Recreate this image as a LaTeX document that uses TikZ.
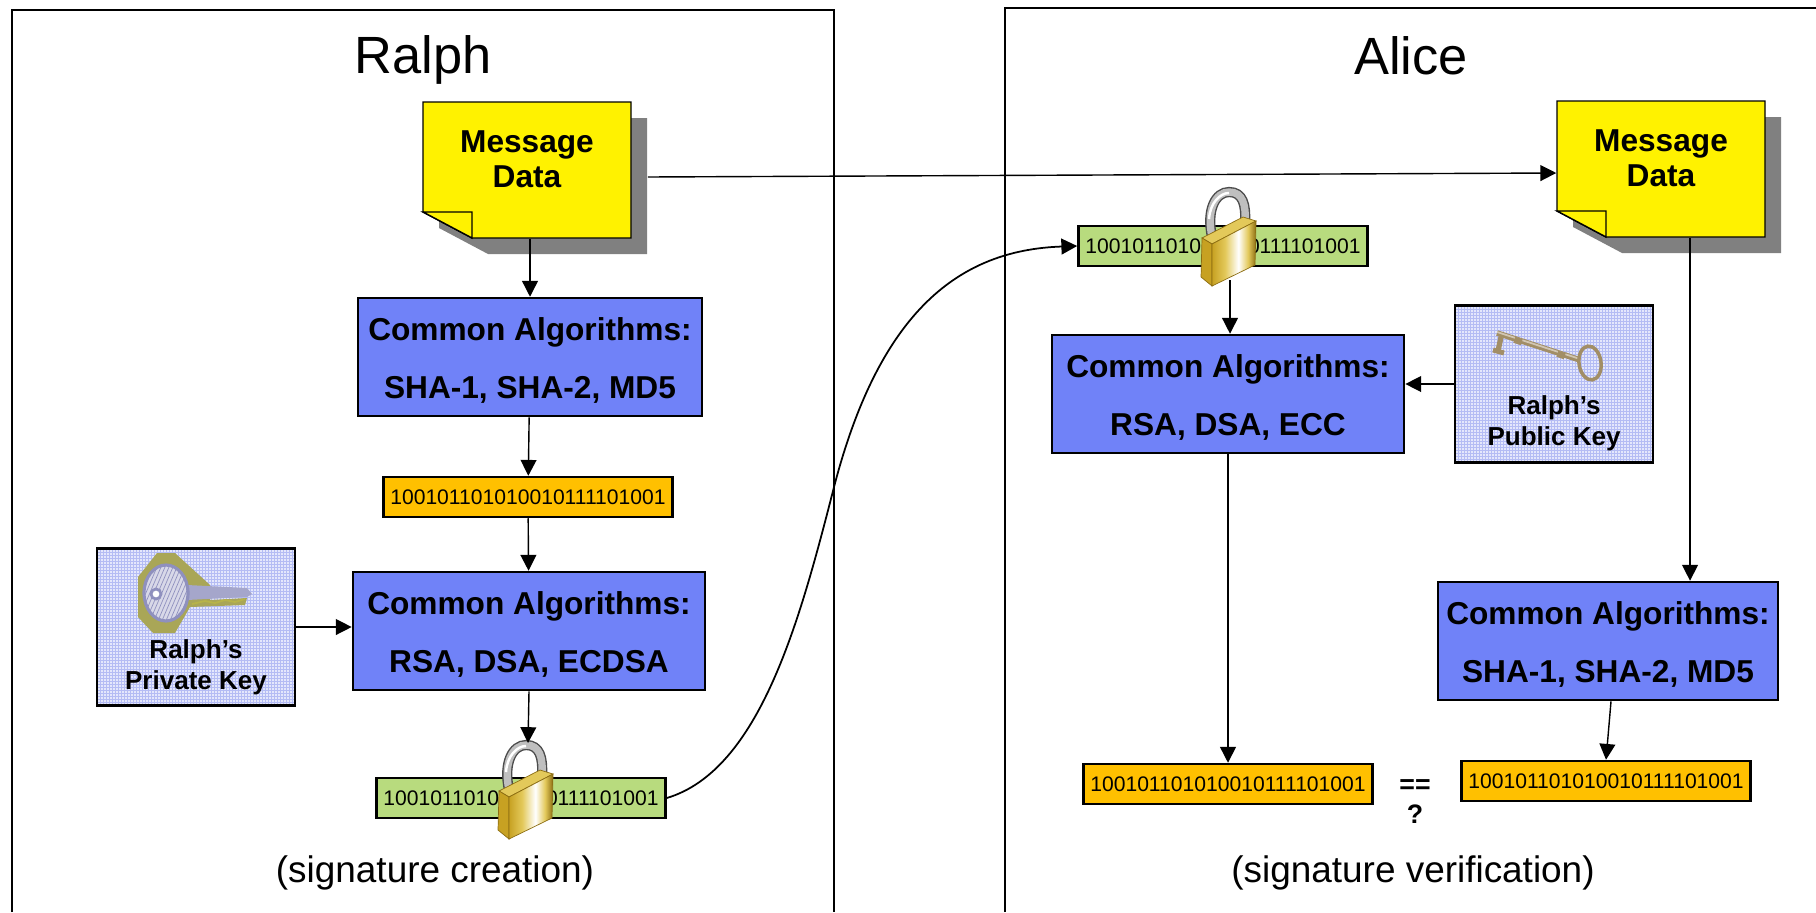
\documentclass[tikz,border=0pt]{standalone}
\usepackage{fontspec}
\setmainfont{Liberation Sans}
\usetikzlibrary{arrows.meta}
\definecolor{algblue}{HTML}{7082F8}
\definecolor{bitorange}{HTML}{FFC000}
\definecolor{bitgreen}{HTML}{B8DB7E}
\definecolor{keyback}{HTML}{E4E7FC}
\definecolor{keyline}{HTML}{B4BCF4}
\definecolor{keyolive}{HTML}{B7B34A}
\definecolor{keysteel}{HTML}{8F90BE}
\definecolor{keybrass}{HTML}{A28E66}
\definecolor{lockdark}{HTML}{8C6D12}
\definecolor{lockmid}{HTML}{C7A122}
\definecolor{locklight}{HTML}{E3C95A}
\pgfdeclarehorizontalshading{lockgold}{100bp}{color(0bp)=(lockmid); color(25bp)=(lockmid); color(40bp)=(locklight); color(55bp)=(white); color(66bp)=(locklight); color(75bp)=(lockdark); color(100bp)=(lockdark)}
\tikzset{
	arrow/.style={-{Triangle[length=4.5pt,width=4.5pt]}, line width=0.4pt},
	algbox/.style={draw, line width=0.7pt, fill=algblue, minimum width=#1, minimum height=1.18cm},
	algtext/.style={align=center, inner sep=0pt, yshift=-0.035cm, font=\fontsize{9}{16.5}\selectfont\bfseries},
	bitbox/.style={draw, line width=0.7pt, fill=#1, minimum width=2.89cm, minimum height=0.4cm, inner sep=0pt, font=\fontsize{6}{7}\selectfont},
	keybox/.style={draw, line width=0.7pt, fill=keyback, minimum width=1.98cm, minimum height=1.57cm, inner sep=0pt,
		path picture={\draw[keyline, line width=0.1pt, step=0.03cm] (path picture bounding box.south west) grid (path picture bounding box.north east);}},
	keytext/.style={align=center, inner sep=0pt, font=\fontsize{7.4}{8.8}\selectfont\bfseries},
	msgtext/.style={align=center, inner sep=0pt, font=\fontsize{9}{10}\selectfont\bfseries},
	heading/.style={inner sep=0pt, font=\fontsize{14.9}{16}\selectfont},
	caption/.style={inner sep=0pt, font=\fontsize{10.5}{12}\selectfont},
	frame/.style={line width=0.8pt},
}
% note with folded corner; #1 name, #2 top left corner
\newcommand{\notesheet}[2]{
	\begin{scope}[shift={#2}]
		\fill[black!50] (16,16) -- (224,16) -- (224,152) -- (65,152) -- (16,126) -- cycle;
		\draw[line width=0.4pt, fill=yellow] (0,0) -- (208,0) -- (208,136) -- (49,136) -- (0,110) -- cycle;
		\draw[line width=0.4pt, fill=yellow] (0,110) -- (49,110) -- (49,136) -- cycle;
		\node (#1) [minimum width=2.08cm, minimum height=1.36cm, inner sep=0pt] at (104,68) {};
		\node (#1text) [msgtext] at (104,57) {Message\\Data};
	\end{scope}
}
% padlock; #1 left corner of the body
\newcommand{\padlock}[1]{
	\begin{scope}[shift={#1}]
		\draw[black!70, line width=2.9pt] (10,-2) .. controls (4,-30) and (14,-47) .. (27,-47) .. controls (41,-47) and (44,-34) .. (43,-17);
		\draw[black!25, line width=2.1pt] (10,-2) .. controls (4,-30) and (14,-47) .. (27,-47) .. controls (41,-47) and (44,-34) .. (43,-17);
		\draw[white, line width=0.7pt] (7,-20) .. controls (8,-36) and (18,-46) .. (27,-46);
		\fill[locklight, draw=lockdark, line width=0.2pt] (0,-1) -- (41,-22) -- (54,-18) -- (10,5) -- cycle;
		\fill[lockmid, draw=lockdark, line width=0.2pt] (0,-1) -- (10,5) -- (10,47) -- (-1,38) -- cycle;
		\shade[shading=lockgold, draw=lockdark, line width=0.2pt] (10,5) -- (54,-18) -- (53,26) -- (10,47) -- cycle;
	\end{scope}
}
\begin{document}
\begin{tikzpicture}[x=0.01cm, y=-0.01cm]
	\useasboundingbox (0,0) rectangle (1816,912);
	
	\draw[frame] (12,912) -- (12,10) -- (834,10) -- (834,912);		% Ralph
	\draw[frame] (1005,912) -- (1005,8) -- (1816,8);				% Alice
	\node (ralph) [heading] at (423,60) {Ralph};
	\node (alice) [heading] at (1411,56) {Alice};
	\node (create) [caption] at (435,873) {(signature creation)};
	\node (verify) [caption] at (1413,873) {(signature verification)};
	
	\notesheet{msgleft}{(423,102)}
	\notesheet{msgright}{(1557,101)}
	
	\node (alga) [algbox=3.44cm] at (530,357) {};
	\node (algatext) [algtext] at (alga) {Common Algorithms:\\SHA-1, SHA-2, MD5};
	\node (orangea) [bitbox=bitorange] at (528,497) {100101101010010111101001};
	\node (algb) [algbox=3.52cm] at (529,631) {};
	\node (algbtext) [algtext] at (algb) {Common Algorithms:\\RSA, DSA, ECDSA};
	\node (greena) [bitbox=bitgreen] at (521,798) {100101101010010111101001};
	\node (keya) [keybox] at (196,627) {};
	
	\node (greenb) [bitbox=bitgreen] at (1223,246) {100101101010010111101001};
	\node (algc) [algbox=3.52cm] at (1228,394) {};
	\node (algctext) [algtext] at (algc) {Common Algorithms:\\RSA, DSA, ECC};
	\node (keyb) [keybox] at (1554,384) {};
	\node (orangec) [bitbox=bitorange] at (1228,784) {100101101010010111101001};
	\node (algd) [algbox=3.4cm] at (1608,641) {};
	\node (algdtext) [algtext] at (algd) {Common Algorithms:\\SHA-1, SHA-2, MD5};
	\node (oranged) [bitbox=bitorange] at (1606,781) {100101101010010111101001};
	
	% private key
	\fill[keyolive!75!gray] (138,577) -- (157,553) -- (175,553) -- (210,585) -- (210,600) -- (247,598) -- (245,605) -- (190,607) -- (175,633) -- (153,633) -- (138,617) -- cycle;
	\fill[keysteel!80] (187,585) -- (247,588) -- (252,594) -- (247,597) -- (187,600) -- cycle;
	\draw[keyolive, line width=0.5pt] (192,604) -- (205,601) -- (215,603) -- (225,600) -- (235,602) -- (245,599);
	\draw[keysteel, line width=0.9pt, fill=keysteel!35,
		path picture={\foreach \k in {0,4,...,80} {\draw[keysteel, line width=0.2pt] (144+\k,560) -- (144+\k-30,630);}}] (166,593) ellipse (22 and 28);
	\draw[keysteel, line width=0.8pt, fill=white] (156,594) circle (5);
	\node (keyatext) [keytext] at (196,667) {Ralph’s\\Private Key};
	
	% public key
	\draw[keybrass, line width=1.6pt] (1497,333) -- (1580,360);
	\draw[keybrass!50!white, line width=0.5pt] (1497,332) -- (1580,359);
	\draw[keybrass, line width=1.5pt] (1501,337) -- (1498,351);
	\draw[keybrass, line width=1.4pt] (1493,350) -- (1504,353);
	\draw[keybrass, line width=2.2pt] (1519,338) -- (1517,344) (1562,352) -- (1560,358);
	\draw[keybrass, line width=1pt, rotate around={8:(1590,363)}] (1590,363) ellipse (11 and 17);
	\node (keybtext) [keytext] at (1554,423) {Ralph’s\\Public Key};
	
	\node (equal) [inner sep=0pt, font=\fontsize{7.6}{8}\selectfont\bfseries] at (1415,787) {==};
	\node (query) [inner sep=0pt, font=\fontsize{7.6}{8}\selectfont\bfseries] at (1415,814) {?};
	
	\padlock{(499,792)}
	\padlock{(1202,239)}
	\coordinate (locka) at (528,743);
	\coordinate (lockb) at (1230,280);
	\coordinate (dropd) at ([xshift=0.29cm]msgright.south);
	
	\draw[arrow] (msgleft.south) ++(3,0) -- (alga.north);
	\draw[arrow] (alga) -- (orangea);
	\draw[arrow] (orangea) -- (algb);
	\draw[arrow] (keya.east) -- (keya.east -| algb.west);
	\draw[arrow] (algb.south) -- (locka);
	\draw[arrow] ([shift={(16,7)}]msgleft.east) -- ([yshift=-0.04cm]msgright.west);
	\draw[arrow, line width=0.5pt] (greena.east) .. controls (760,770) and (800,620) .. (834,487) .. controls (880,310) and (960,250) .. (greenb.west);
	\draw[arrow] (lockb) -- (lockb |- algc.north);
	\draw[arrow] (keyb.west) -- (keyb.west -| algc.east);
	\draw[arrow] (algc) -- (orangec);
	\draw[arrow] (dropd) -- (dropd |- algd.north);
	\draw[arrow] (algd.south) ++(3,0) -- (oranged.north);
\end{tikzpicture}
\end{document}
